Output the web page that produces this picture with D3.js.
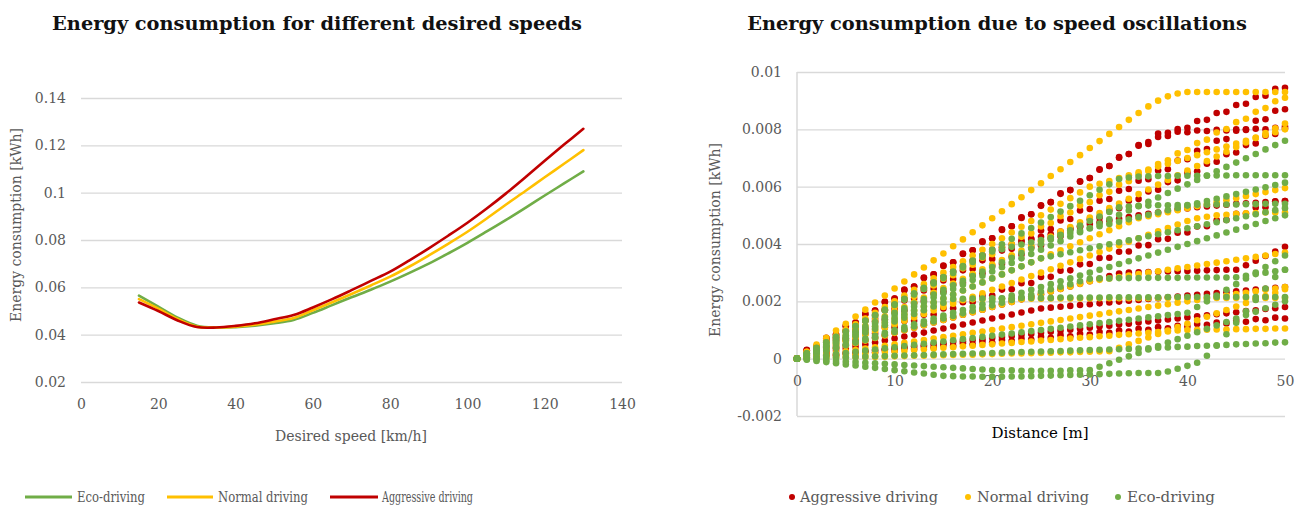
<!DOCTYPE html>
<html>
<head>
<meta charset="utf-8">
<script src="https://cdn.jsdelivr.net/npm/d3@7"></script>
<style>
  body { margin: 0; background: #fff; }
  svg text { font-family: "DejaVu Serif", serif; }
</style>
</head>
<body>
<svg id="chart" width="1305" height="509"></svg>
<script>
// ---------- left chart: energy vs desired speed ----------
var speeds = [15,20,25,30,35,40,45,50,55,60,65,70,75,80,85,90,95,100,105,110,115,120,125,130];
var ecoEnergy = [.0565,.0518,.0472,.0438,.0430,.0432,.0438,.0448,.0462,.0492,.0525,.0558,.0590,.0624,.0661,.0700,.0743,.0788,.0836,.0885,.0936,.0988,.1039,.1090];
var normalEnergy = [.0550,.0510,.0466,.0434,.0430,.0434,.0442,.0455,.0470,.0503,.0537,.0572,.0608,.0645,.0688,.0735,.0784,.0835,.0891,.0950,.1007,.1065,.1122,.1180];
var aggressiveEnergy = [.0536,.0500,.0460,.0432,.0430,.0437,.0448,.0465,.0483,.0515,.0550,.0588,.0627,.0666,.0714,.0765,.0818,.0873,.0933,.0997,.1065,.1135,.1203,.1270];
var leftXTicks = [0,20,40,60,80,100,120,140];
var leftYTicks = [0.02,0.04,0.06,0.08,0.1,0.12,0.14];

// ---------- right chart: runs over distance (values in 1e-5 kWh) ----------
var distance = [0,1,2,3,4,5,6,7,8,9,10,11,12,13,14,15,16,17,18,19,20,21,22,23,24,25,26,27,28,29,30,31,32,33,34,35,36,37,38,39,40,41,42,43,44,45,46,47,48,49,50];
var aggressiveRuns = [
  [0,31,42,73,84,115,126,157,168,199,210,241,252,283,294,325,336,367,378,409,420,451,462,493,504,535,546,577,588,619,630,661,672,703,714,745,749,773,777,801,805,829,833,857,861,885,889,913,917,941,945],
  [0,29,35,64,70,99,104,134,139,169,174,203,209,238,244,273,278,308,313,343,348,377,383,412,418,447,452,482,487,517,522,551,557,586,592,621,626,656,661,691,696,725,731,760,766,795,800,830,835,865,870],
  [0,6,32,39,65,71,97,103,130,136,162,168,194,201,227,233,259,265,292,298,324,330,356,363,389,395,421,427,454,460,486,492,518,525,551,557,583,589,616,622,648,654,680,687,713,719,745,751,778,784,810],
  [0,29,42,71,84,113,126,155,168,197,210,239,252,281,294,323,336,365,378,407,420,449,462,491,504,533,546,575,588,617,630,659,672,701,714,743,756,785,788,792,790,796,794,798,796,800,798,802,800,805,803],
  [0,9,18,27,36,45,54,63,72,81,90,99,108,117,126,135,144,153,162,171,180,189,198,207,216,225,234,243,252,261,270,279,288,297,300,301,302,303,304,305,306,307,308,309,310,310,326,342,358,374,390],
  [0,9,6,14,11,20,17,26,22,31,28,37,34,42,39,48,45,54,50,59,56,65,62,70,67,76,73,82,78,87,84,93,90,98,95,104,101,110,106,115,112,121,118,126,123,132,129,138,134,143,140],
  [0,4,7,11,14,18,22,25,29,32,36,40,43,47,50,54,58,61,65,68,72,76,79,83,86,90,94,97,101,104,108,112,115,119,122,126,130,133,137,140,144,148,151,155,158,162,166,169,173,176,180],
  [0,21,22,43,44,65,66,87,88,109,110,131,132,153,154,175,176,197,198,219,220,241,242,263,264,285,286,307,308,329,330,351,352,373,374,395,396,417,418,439,440,461,462,483,484,505,506,527,528,549,550],
  [0,19,38,57,76,95,114,133,152,171,190,209,228,247,266,285,304,323,342,361,380,389,398,407,416,425,434,443,452,461,470,476,482,488,494,500,505,510,515,520,524,528,531,534,537,540,542,544,546,548,550],
  [0,7,14,21,28,35,42,49,56,63,70,77,84,91,98,105,112,119,126,133,140,147,154,161,168,175,178,181,184,187,190,193,196,199,202,205,208,211,214,217,220,223,226,229,232,235,238,241,244,247,250]
];
var normalRuns = [
  [0,24,49,73,98,122,147,171,196,220,245,269,294,318,343,367,392,416,441,465,490,514,539,563,588,612,637,661,686,710,735,759,784,808,833,857,880,900,915,925,930,930,930,930,930,930,930,930,930,930,930],
  [0,24,36,61,73,97,109,133,146,170,182,206,218,243,255,279,291,315,328,352,364,388,400,425,437,461,473,497,510,534,546,570,582,607,619,643,655,679,692,716,728,752,764,789,801,825,837,861,874,898,910],
  [0,16,33,49,66,82,98,115,131,148,164,180,197,213,230,246,262,279,295,312,328,344,361,377,394,410,426,443,459,476,492,508,525,541,558,574,590,607,623,640,656,672,689,705,722,738,754,771,787,804,820],
  [0,14,28,42,56,70,84,98,112,126,140,154,168,182,196,210,224,238,252,266,280,294,308,322,336,350,364,378,392,406,420,434,448,462,476,490,497,504,511,518,525,532,539,546,553,560,567,574,581,588,595],
  [0,12,24,36,48,60,72,84,96,108,120,132,144,156,168,180,192,204,216,228,240,252,264,276,288,300,312,324,336,348,360,372,384,396,408,420,432,444,456,468,480,490,495,500,502,505,507,508,510,510,510],
  [0,13,26,38,51,64,77,90,102,115,128,141,154,166,179,192,205,206,207,207,208,208,208,209,209,209,210,210,210,210,210,211,211,211,211,211,211,212,212,212,212,212,212,212,212,212,212,212,212,212,212],
  [0,3,5,8,10,13,15,18,20,23,25,28,30,33,35,38,40,43,45,48,50,53,55,58,60,63,65,68,70,73,75,78,80,83,85,88,90,93,95,98,100,101,101,102,102,103,103,104,104,105,105],
  [0,1,2,2,3,4,5,6,6,7,8,9,10,10,11,12,13,14,14,15,16,17,18,18,19,20,21,22,22,23,24,25,26,38,50,62,74,86,98,110,122,134,146,158,170,182,194,206,218,230,242],
  [0,9,18,27,36,45,54,63,72,81,90,99,108,117,126,135,144,153,162,171,180,189,198,207,216,225,234,243,252,261,270,275,280,285,290,295,300,305,310,315,320,325,330,335,340,345,350,355,360,365,370],
  [0,5,10,15,20,25,30,35,40,45,50,55,60,65,70,75,80,85,90,95,100,105,110,115,120,125,130,135,140,145,150,155,160,165,170,175,180,185,190,195,200,205,210,215,220,225,230,235,240,245,250],
  [0,20,40,60,80,100,120,140,160,180,200,220,240,260,280,300,320,340,360,380,400,420,440,460,480,500,520,540,560,580,600,610,620,630,640,650,660,670,680,690,700,710,720,730,740,750,760,770,780,790,800]
];
var ecoRuns = [
  [0,19,38,57,76,95,114,133,152,171,190,209,228,247,266,285,304,323,342,361,380,399,418,437,456,475,494,513,532,551,570,589,608,627,632,635,636,637,637,638,638,638,639,639,639,640,640,640,640,640,640],
  [0,15,30,46,61,76,91,106,122,137,152,167,182,198,213,228,243,258,274,289,304,319,334,350,365,380,395,410,426,441,456,471,486,502,517,532,547,562,578,593,608,623,638,654,669,684,699,714,730,745,760],
  [0,16,32,48,64,80,96,112,128,144,160,176,192,208,224,240,256,272,288,304,320,336,352,368,384,400,416,432,448,464,480,496,512,528,531,533,534,535,535,536,536,537,537,538,538,538,539,539,540,540,540],
  [0,19,37,56,75,94,112,131,150,168,187,206,224,243,262,281,299,318,337,355,374,382,390,398,406,414,422,430,438,446,454,462,470,478,486,494,502,510,518,526,534,542,550,558,566,574,582,590,598,606,614],
  [0,10,20,30,40,50,60,70,80,90,100,110,120,130,140,150,160,170,180,190,200,210,220,230,240,250,260,270,280,290,300,310,320,330,340,350,360,370,380,390,400,410,420,430,440,450,460,470,480,490,500],
  [0,13,26,39,52,65,78,91,104,117,130,143,156,169,182,195,208,209,210,210,211,211,211,212,212,212,212,213,213,213,213,213,214,214,214,214,214,214,215,215,215,215,215,215,215,215,215,215,215,215,215],
  [0,1,2,3,4,5,6,7,8,9,10,11,12,13,14,15,16,17,18,19,20,21,22,23,24,25,26,27,28,29,30,31,32,33,34,35,36,38,39,41,42,44,45,47,48,50,51,53,54,56,57],
  [0,-4,-8,-12,-16,-20,-24,-28,-32,-36,-40,-44,-48,-52,-56,-60,-61,-62,-62,-63,-63,-63,-62,-62,-61,-60,-59,-58,-57,-56,-55,-54,-53,-52,-51,-50,-50,-50,-45,-35,-25,-14,10,45,85,125,165,205,245,285,310],
  [0,-2,-4,-6,-8,-10,-12,-14,-16,-18,-20,-22,-24,-26,-28,-30,-32,-34,-36,-38,-40,-41,-41,-42,-42,-42,-42,-42,-41,-41,-40,-28,-16,-4,8,20,32,44,56,68,80,92,104,116,128,140,152,164,176,188,200],
  [0,4,8,12,16,20,24,28,32,36,40,44,48,52,56,60,64,68,72,76,80,84,88,92,96,100,104,108,112,116,120,124,128,132,136,140,144,148,152,156,160,180,200,220,240,260,280,300,320,340,360],
  [0,9,19,28,37,47,56,65,74,84,93,102,112,121,130,140,149,158,167,177,186,195,205,214,223,233,242,251,260,270,279,280,280,281,281,281,282,282,282,282,283,283,283,283,283,284,289,295,300,305,310],
  [0,14,28,42,56,70,84,98,112,126,140,154,168,182,196,210,224,238,252,266,280,294,308,322,336,350,357,364,371,378,385,392,399,406,413,420,427,434,441,448,455,462,469,476,483,490,497,504,511,518,525]
];
var rightXTicks = [0,10,20,30,40,50];
var rightYTicks = [-0.002,0,0.002,0.004,0.006,0.008,0.01];

var green = "#70ad47", yellow = "#ffc000", red = "#c00000";
var gridColor = "#d9d9d9", labelColor = "#595959";

var svg = d3.select("#chart");

function styleAxis(g) {
  g.select(".domain").remove();
  g.selectAll(".tick line").attr("stroke", gridColor).attr("stroke-width", 1.3);
  g.selectAll(".tick text").attr("fill", labelColor).attr("font-size", 14)
    .attr("font-family", "DejaVu Serif");
}

// scale a title's font so it spans the wanted width
function fitTitle(t, width) {
  var w = t.node().getComputedTextLength();
  var fs = +t.attr("font-size");
  t.attr("font-size", (fs * width / w).toFixed(2));
}

// ===== left chart =====
var xL = d3.scaleLinear().domain([0, 140]).range([81, 622]);
var yL = d3.scaleLinear().domain([0.02, 0.14]).range([382, 98]);

svg.append("g")
  .attr("transform", "translate(81,0)")
  .call(d3.axisLeft(yL).tickValues(leftYTicks).tickSize(-541).tickPadding(15)
    .tickFormat(d => String(+d.toFixed(3))))
  .call(styleAxis);

svg.append("g")
  .attr("transform", "translate(0,382)")
  .call(d3.axisBottom(xL).tickValues(leftXTicks).tickSize(0).tickPadding(17))
  .call(styleAxis);

var lineL = d3.line()
  .x((d, i) => xL(speeds[i]))
  .y(d => yL(d))
  .curve(d3.curveCatmullRom);

[[ecoEnergy, green], [normalEnergy, yellow], [aggressiveEnergy, red]].forEach(function(s) {
  svg.append("path")
    .attr("d", lineL(s[0]))
    .attr("fill", "none")
    .attr("stroke", s[1])
    .attr("stroke-width", 2.6)
    .attr("stroke-linecap", "round");
});

var titleL = svg.append("text")
  .attr("x", 317).attr("y", 30)
  .attr("text-anchor", "middle")
  .attr("font-family", "Liberation Serif")
  .attr("font-size", 22).attr("font-weight", "bold").attr("fill", "#111")
  .text("Energy consumption for different desired speeds");
fitTitle(titleL, 530);

svg.append("text")
  .attr("transform", "translate(21,225) rotate(-90)")
  .attr("text-anchor", "middle")
  .attr("font-size", 14).attr("fill", labelColor)
  .text("Energy consumption [kWh]");

svg.append("text")
  .attr("x", 351).attr("y", 441)
  .attr("text-anchor", "middle")
  .attr("font-size", 14).attr("fill", labelColor)
  .text("Desired speed [km/h]");

// left legend
var legendL = [
  {name: "Eco-driving", color: green, x1: 25, x2: 72, tx: 77, w: 68},
  {name: "Normal driving", color: yellow, x1: 167, x2: 213, tx: 218, w: 90},
  {name: "Aggressive driving", color: red, x1: 330, x2: 378, tx: 382, w: 91}
];
legendL.forEach(function(l) {
  svg.append("line")
    .attr("x1", l.x1).attr("x2", l.x2).attr("y1", 497).attr("y2", 497)
    .attr("stroke", l.color).attr("stroke-width", 3);
  svg.append("text")
    .attr("x", l.tx).attr("y", 502)
    .attr("font-family", "Liberation Serif")
    .attr("font-size", 15).attr("fill", labelColor)
    .attr("textLength", l.w).attr("lengthAdjust", "spacingAndGlyphs")
    .text(l.name);
});

// ===== right chart =====
var xR = d3.scaleLinear().domain([0, 50]).range([797, 1285]);
var yR = d3.scaleLinear().domain([-0.002, 0.01]).range([416, 72]);

svg.append("g")
  .attr("transform", "translate(797,0)")
  .call(d3.axisLeft(yR).tickValues(rightYTicks).tickSize(-488).tickPadding(15)
    .tickFormat(d => String(+d.toFixed(4))))
  .call(styleAxis);

svg.append("line")
  .attr("x1", 797).attr("x2", 797).attr("y1", 72).attr("y2", 416)
  .attr("stroke", gridColor).attr("stroke-width", 1.5);

svg.append("g")
  .attr("transform", "translate(0," + yR(0) + ")")
  .call(d3.axisBottom(xR).tickValues(rightXTicks).tickSize(0).tickPadding(17))
  .call(styleAxis);

var dots = svg.append("g");
[[aggressiveRuns, red], [normalRuns, yellow], [ecoRuns, green]].forEach(function(s) {
  s[0].forEach(function(run) {
    dots.append("g").selectAll("circle")
      .data(run.filter((v, i) => i < distance.length))
      .enter().append("circle")
      .attr("cx", (d, i) => xR(distance[i]))
      .attr("cy", d => yR(d * 1e-5))
      .attr("r", 3.3)
      .attr("fill", s[1]);
  });
});

var titleR = svg.append("text")
  .attr("x", 997).attr("y", 30)
  .attr("text-anchor", "middle")
  .attr("font-family", "Liberation Serif")
  .attr("font-size", 22).attr("font-weight", "bold").attr("fill", "#111")
  .text("Energy consumption due to speed oscillations");
fitTitle(titleR, 500);

svg.append("text")
  .attr("transform", "translate(720,240) rotate(-90)")
  .attr("text-anchor", "middle")
  .attr("font-size", 14).attr("fill", labelColor)
  .text("Energy consumption [kWh]");

svg.append("text")
  .attr("x", 1040).attr("y", 438)
  .attr("text-anchor", "middle")
  .attr("font-size", 15).attr("fill", "#000")
  .text("Distance [m]");

// right legend
var legendR = [
  {name: "Aggressive driving", color: red, cx: 792, tx: 800, w: 138},
  {name: "Normal driving", color: yellow, cx: 968, tx: 977, w: 112},
  {name: "Eco-driving", color: green, cx: 1118, tx: 1127, w: 88}
];
legendR.forEach(function(l) {
  svg.append("circle").attr("cx", l.cx).attr("cy", 497).attr("r", 3).attr("fill", l.color);
  svg.append("text")
    .attr("x", l.tx).attr("y", 502)
    .attr("font-size", 14).attr("fill", labelColor)
    .attr("textLength", l.w).attr("lengthAdjust", "spacingAndGlyphs")
    .text(l.name);
});
</script>
</body>
</html>
